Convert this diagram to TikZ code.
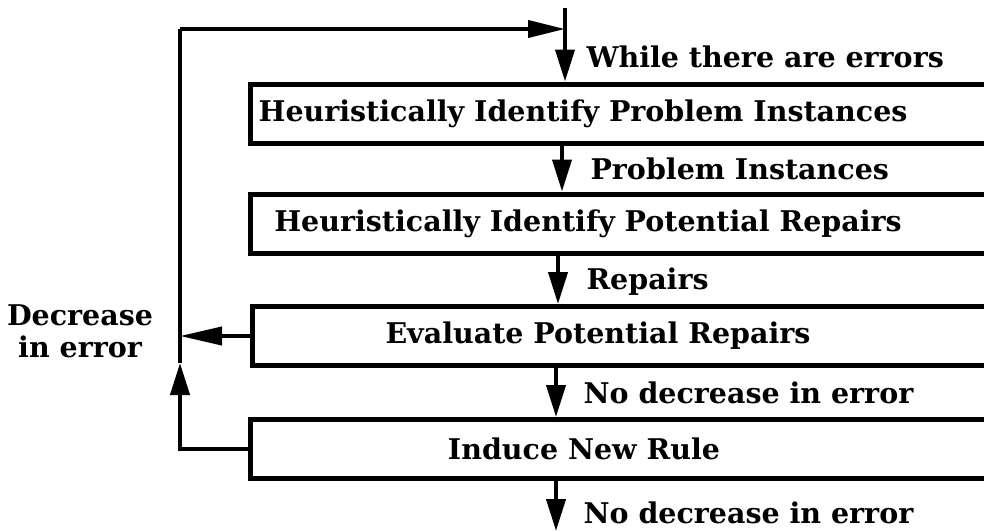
\documentclass[tikz,border=0pt]{standalone}
\usepackage{fontspec}
\setmainfont{DejaVu Serif}
\usetikzlibrary{arrows.meta}
\usetikzlibrary{positioning}

\tikzset{
  stepbox/.style={draw, line width=5pt, minimum width=760pt, minimum height=59pt, anchor=west, inner sep=0pt},
  steptext/.style={font=\bfseries\fontsize{28.5}{32}\selectfont},
  flowlabel/.style={font=\bfseries\fontsize{28.5}{32}\selectfont, anchor=west},
  flow/.style={line width=4pt, -{Triangle[length=32pt,width=19pt]}},
  plain/.style={line width=4pt}
}

\begin{document}
\begin{tikzpicture}[x=1pt,y=-1pt]
\useasboundingbox (0,0) rectangle (984,531);
\clip (0,0) rectangle (984,531);

% the four steps
\node[stepbox] (b1) at (248,113.5) {};
\node[stepbox] (b2) at (248,223.5) {};
\node[stepbox] (b3) at (250,336) {};
\node[stepbox] (b4) at (248,449) {};
\node[steptext] (t1) at (583,113.5) {Heuristically Identify Problem Instances};
\node[steptext] (t2) at (588,223.5) {Heuristically Identify Potential Repairs};
\node[steptext] (t3) at (598,336) {Evaluate Potential Repairs};
\node[steptext] (t4) at (584,449) {Induce New Rule};

% points on the arrows
\coordinate (start) at (565,8);
\coordinate (top) at (565,29);
\coordinate (corner) at (180,29);
\coordinate (join) at (180,336);
\coordinate (up) at (180,363);
\coordinate (a2) at (562,0);
\coordinate (a3) at (558,0);
\coordinate (a4) at (556,0);
\coordinate (end) at (556,531);

% main flow
\draw[plain] (start) -- (top);
\draw[flow] (top) -- (top |- b1.north);
\draw[flow] (a2 |- b1.south) -- (a2 |- b2.north);
\draw[flow] (a3 |- b2.south) -- (a3 |- b3.north);
\draw[flow] (a4 |- b3.south) -- (a4 |- b4.north);
\draw[flow] (a4 |- b4.south) -- (end);

% loop back
\draw[flow, -{Triangle[length=42pt,width=18pt]}] (b3.west) -- (join);
\draw[flow] (b4.west) -| (up);
\draw[plain] (up) -- (corner);
\draw[flow, -{Triangle[length=37pt,width=17pt]}] (corner) -- (top);

% labels
\node[flowlabel] (l1) at (583,57) {While there are errors};
\node[flowlabel] (l2) at (587,169) {Problem Instances};
\node[flowlabel] (l3) at (583,282) {Repairs};
\node[flowlabel] (l4) at (580,393) {No decrease in error};
\node[flowlabel] (l5) at (580,513) {No decrease in error};
\node[steptext, align=center] (dec) at (80,331) {Decrease\\in error};
\end{tikzpicture}
\end{document}
